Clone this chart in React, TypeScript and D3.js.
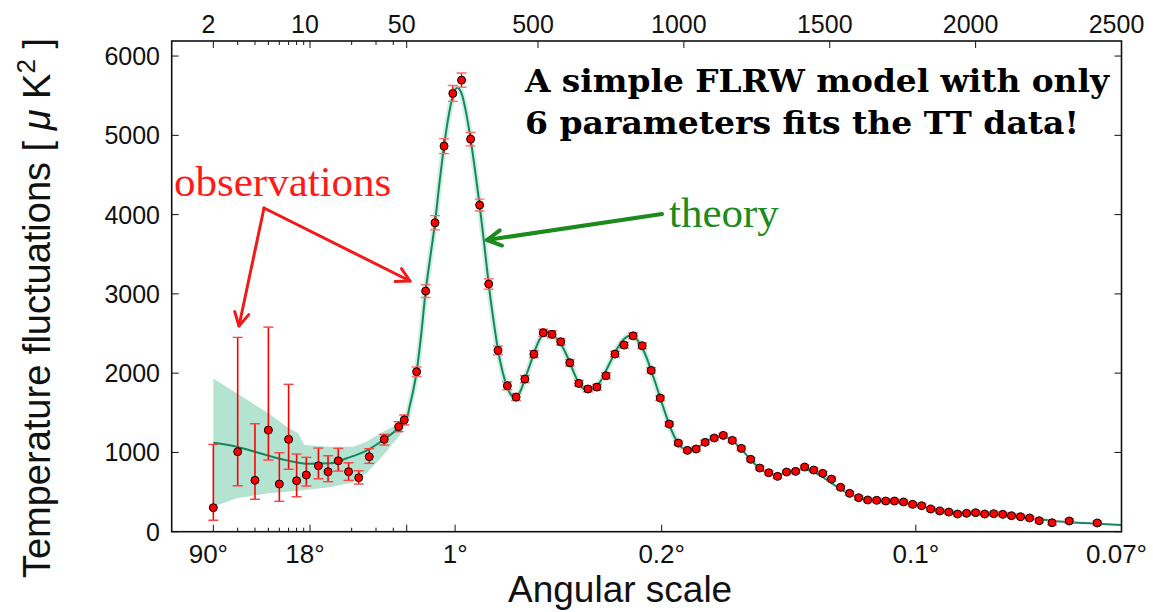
import React from "react";
import * as d3 from "d3";

// ---------- data ----------
// low-ℓ observations: [ell, D, errLow, errHigh]
const lowObs: [number, number, number, number][] = [
  [2, 303, 144, 1102], [3, 1009, 580, 2451], [4, 648, 409, 1362], [5, 1282, 904, 2581],
  [6, 601, 383, 996], [7, 1165, 787, 1859], [8, 643, 441, 980], [9.4, 715, 576, 938],
  [11.5, 832, 668, 1055], [13.5, 757, 631, 958], [16, 895, 765, 1052], [19, 757, 648, 870],
  [22.5, 681, 601, 769], [26.8, 946, 862, 1047], [34.4, 1165, 1093, 1228], [43.7, 1324, 1262, 1388],
  [48, 1410, 1348, 1472],
];
// binned high-ℓ observations: [ell, D, err]
const highObs: [number, number, number][] = [
  [84, 2018, 60], [115, 3035, 80], [147, 3897, 90], [178, 4864, 95], [208, 5528, 100],
  [238, 5696, 90], [269, 4952, 85], [300, 4120, 75], [331, 3124, 65], [363, 2287, 55],
  [395, 1841, 50], [425, 1698, 45], [455, 1925, 45], [486, 2240, 45], [518, 2510, 45],
  [548, 2490, 45], [578, 2396, 42], [609, 2131, 40], [640, 1871, 38], [671, 1800, 36],
  [702, 1824, 36], [733, 1967, 36], [764, 2241, 36], [795, 2354, 36], [826, 2471, 36],
  [857, 2346, 35], [888, 2035, 33], [919, 1686, 30], [950, 1358, 28], [981, 1118, 26],
  [1012, 1026, 25], [1042, 1043, 25], [1073, 1127, 25], [1104, 1182, 25], [1135, 1215, 25],
  [1166, 1152, 25], [1197, 1051, 25], [1229, 913, 24], [1260, 803, 24], [1291, 744, 24],
  [1321, 698, 24], [1352, 753, 24], [1383, 761, 24], [1414, 816, 24], [1445, 778, 24],
  [1476, 736, 24], [1506, 664, 24], [1537, 560, 24], [1568, 484, 24], [1599, 429, 24],
  [1630, 400, 24], [1661, 396, 24], [1692, 387, 24], [1722, 387, 24], [1753, 375, 24],
  [1784, 345, 24], [1815, 328, 24], [1846, 286, 24], [1877, 261, 24], [1908, 248, 24],
  [1938, 223, 24], [1969, 232, 24], [2000, 240, 24], [2031, 223, 24], [2062, 227, 24],
  [2093, 219, 24], [2123, 202, 24], [2154, 189, 24], [2185, 173, 24], [2218, 139, 25],
  [2262, 113, 25], [2321, 135, 25], [2417, 110, 25],
];
// best-fit theory curve: [ell, D]
const theory: [number, number][] = [
  [2, 1122], [2.95, 1072], [4, 1009], [5, 960], [6.8, 900], [10, 856], [13.9, 862], [18.4, 926],
  [25.6, 1022], [33.8, 1156], [44.6, 1324], [50, 1420], [60, 1580], [73, 1790], [84, 2018],
  [100, 2500], [115, 3035], [131, 3470], [147, 3897], [162, 4390], [178, 4864], [193, 5230],
  [208, 5500], [223, 5600], [238, 5530], [254, 5280], [269, 4952], [285, 4540], [300, 4120],
  [316, 3620], [331, 3124], [347, 2680], [363, 2290], [379, 2010], [395, 1820], [410, 1715],
  [425, 1698], [440, 1775], [455, 1925], [471, 2090], [486, 2250], [502, 2400], [518, 2490],
  [533, 2520], [548, 2495], [563, 2440], [578, 2370], [594, 2260], [609, 2135], [625, 1990],
  [640, 1871], [656, 1805], [671, 1785], [687, 1800], [702, 1840], [718, 1920], [733, 2030],
  [749, 2150], [764, 2260], [780, 2360], [795, 2430], [811, 2470], [826, 2465], [842, 2410],
  [857, 2320], [873, 2190], [888, 2030], [904, 1860], [919, 1686], [935, 1510], [950, 1350],
  [966, 1210], [981, 1110], [997, 1050], [1012, 1025], [1028, 1030], [1043, 1055], [1058, 1090],
  [1073, 1130], [1089, 1165], [1104, 1190], [1120, 1205], [1135, 1205], [1150, 1185], [1166, 1150],
  [1181, 1100], [1197, 1040], [1213, 975], [1229, 910], [1244, 850], [1260, 800], [1275, 760],
  [1291, 735], [1306, 722], [1321, 722], [1337, 730], [1352, 745], [1368, 762], [1383, 776],
  [1399, 785], [1414, 786], [1430, 774], [1445, 752], [1460, 722], [1476, 688], [1491, 650],
  [1506, 612], [1522, 574], [1537, 538], [1552, 506], [1568, 478], [1599, 435], [1630, 406],
  [1661, 391], [1692, 382], [1722, 374], [1753, 362], [1784, 345], [1815, 325], [1846, 300],
  [1877, 276], [1908, 254], [1938, 238], [1969, 228], [2000, 223], [2031, 220], [2062, 217],
  [2093, 210], [2123, 200], [2154, 187], [2185, 172], [2218, 157], [2262, 138], [2321, 120],
  [2417, 100], [2500, 84],
];
// cosmic-variance band at low ℓ: [ell, low, high]
const band: [number, number, number][] = [
  [2, 315, 1934], [2.95, 421, 1745], [5, 484, 1493], [6.8, 505, 1324], [8.2, 518, 1241],
  [9.1, 526, 1093], [13.9, 560, 1072], [20.5, 620, 1072], [25.6, 736, 1135], [33.8, 960, 1261],
  [44.6, 1219, 1367], [50, 1370, 1470],
];

const yTicks = [0, 1000, 2000, 3000, 4000, 5000, 6000];
const topTickVals = [2, 10, 50, 500, 1000, 1500, 2000, 2500];
const topTickLabels = ["2", "10", "50", "500", "1000", "1500", "2000", "2500"];
const logMinor = [3, 4, 5, 6, 7, 8, 9, 20, 30, 40];
const angTickEll = [2, 10, 216, 924, 1795, 2500];
const angTickLabels = ["90°", "18°", "1°", "0.2°", "0.1°", "0.07°"];

// ---------- layout ----------
const W = 1153, H = 612;
const P = { left: 171.7, right: 1121.5, top: 41, bottom: 531.7 };
const BREAK = 50;
const breakX = 406.7;
const xLog = d3.scaleLog().domain([1, BREAK]).range([P.left, breakX]);
const xLin = d3.scaleLinear().domain([BREAK, 2500]).range([breakX, P.right]);
const x = (l: number) => (l <= BREAK ? xLog(l) : xLin(l));
const y = d3.scaleLinear().domain([0, 6190]).range([P.bottom, P.top]);

const SANS = "'Liberation Sans', Arial, sans-serif";
const SERIF = "'Liberation Serif', 'Times New Roman', serif";
const SLAB = "'DejaVu Serif', serif";

const RED = "#ff0000";
const GREEN_LINE = "#14875c";
const BAND = "#b4e4d1";

function Arrow({ from, to, color, width, len = 15, ang = 0.5 }: any) {
  const dx = to[0] - from[0], dy = to[1] - from[1];
  const a = Math.atan2(dy, dx);
  const w1 = [to[0] - len * Math.cos(a - ang), to[1] - len * Math.sin(a - ang)];
  const w2 = [to[0] - len * Math.cos(a + ang), to[1] - len * Math.sin(a + ang)];
  return (
    <g stroke={color} strokeWidth={width} fill="none" strokeLinecap="round" strokeLinejoin="round">
      <line x1={from[0]} y1={from[1]} x2={to[0]} y2={to[1]} />
      <polyline points={`${w1[0]},${w1[1]} ${to[0]},${to[1]} ${w2[0]},${w2[1]}`} />
    </g>
  );
}

export default function App() {
  const line = d3
    .line<[number, number]>()
    .x((d) => x(d[0]))
    .y((d) => y(d[1]))
    .curve(d3.curveMonotoneX);
  const theoryPath = line(theory) || "";
  const haloPath = line(theory.filter((d) => d[0] >= 44 && d[0] <= 1000)) || "";
  const bandPath =
    d3
      .area<[number, number, number]>()
      .x((d) => x(d[0]))
      .y0((d) => y(d[1]))
      .y1((d) => y(d[2]))(band) || "";

  const capW = 5;

  return (
    <svg width={W} height={H} style={{ position: "absolute", left: 0, top: 0, background: "#fff" }}>
      <defs>
        <clipPath id="plotclip">
          <rect x={P.left} y={P.top} width={P.right - P.left} height={P.bottom - P.top} />
        </clipPath>
      </defs>
      <rect x={0} y={0} width={W} height={H} fill="#fff" />

      <g clipPath="url(#plotclip)">
        <path d={bandPath} fill={BAND} />
        <path d={haloPath} fill="none" stroke={BAND} strokeOpacity={0.6} strokeWidth={6} strokeLinejoin="round" />
        <path d={theoryPath} fill="none" stroke={GREEN_LINE} strokeWidth={2} />

        {/* low-ell error bars */}
        {lowObs.map((d, i) => {
          const cx = x(d[0]);
          return (
            <g key={"le" + i}>
              <line x1={cx} x2={cx} y1={y(d[2])} y2={y(d[3])} stroke={RED} strokeWidth={1.6} />
              <line x1={cx - capW} x2={cx + capW} y1={y(d[2])} y2={y(d[2])} stroke="#ff4040" strokeWidth={1.4} />
              <line x1={cx - capW} x2={cx + capW} y1={y(d[3])} y2={y(d[3])} stroke="#ff4040" strokeWidth={1.4} />
            </g>
          );
        })}
        {highObs.map((d, i) => {
          const cx = x(d[0]);
          const lo = y(d[1] - d[2]), hi = y(d[1] + d[2]);
          return (
            <g key={"he" + i}>
              <line x1={cx} x2={cx} y1={lo} y2={hi} stroke={RED} strokeWidth={1.4} />
              <line x1={cx - capW} x2={cx + capW} y1={lo} y2={lo} stroke="#ff6a6a" strokeWidth={1.4} />
              <line x1={cx - capW} x2={cx + capW} y1={hi} y2={hi} stroke="#ff6a6a" strokeWidth={1.4} />
            </g>
          );
        })}
        {lowObs.map((d, i) => (
          <circle key={"lp" + i} cx={x(d[0])} cy={y(d[1])} r={4} fill={RED} stroke="#000" strokeWidth={1} />
        ))}
        {highObs.map((d, i) => (
          <circle key={"hp" + i} cx={x(d[0])} cy={y(d[1])} r={4} fill={RED} stroke="#000" strokeWidth={1} />
        ))}
      </g>

      {/* frame */}
      <rect x={P.left} y={P.top} width={P.right - P.left} height={P.bottom - P.top} fill="none" stroke="#111" strokeWidth={1.6} />

      {/* y ticks */}
      {yTicks.map((t) => (
        <g key={"yt" + t}>
          <line x1={P.left} x2={P.left + 7} y1={y(t)} y2={y(t)} stroke="#111" strokeWidth={1} />
          <line x1={P.right} x2={P.right - 7} y1={y(t)} y2={y(t)} stroke="#111" strokeWidth={1} />
          <text x={160} y={y(t)} dy="0.36em" textAnchor="end" fontFamily={SANS} fontSize={25} fill="#111">
            {t}
          </text>
        </g>
      ))}

      {/* top axis ticks */}
      {topTickVals.filter((t) => t < 2500).map((t) => (
        <line key={"tt" + t} x1={x(t)} x2={x(t)} y1={P.top} y2={P.top + 7} stroke="#111" strokeWidth={1} />
      ))}
      {logMinor.map((t) => (
        <g key={"mn" + t}>
          <line x1={x(t)} x2={x(t)} y1={P.top} y2={P.top + 4} stroke="#111" strokeWidth={1} />
          <line x1={x(t)} x2={x(t)} y1={P.bottom} y2={P.bottom - 4} stroke="#111" strokeWidth={1} />
        </g>
      ))}
      {topTickVals.map((t, i) => (
        <text key={"tl" + t} x={x(t) - 5} y={33} textAnchor="middle" fontFamily={SANS} fontSize={25} fill="#111">
          {topTickLabels[i]}
        </text>
      ))}

      {/* bottom axis ticks */}
      {[2, 10, 50, ...angTickEll.slice(2, 5)].map((t) => (
        <line key={"bt" + t} x1={x(t)} x2={x(t)} y1={P.bottom} y2={P.bottom - 7} stroke="#111" strokeWidth={1} />
      ))}
      {angTickEll.map((t, i) => (
        <text
          key={"bl" + i}
          x={x(t) + (t <= 10 || t >= 2500 ? -5 : 0)}
          y={563}
          textAnchor="middle"
          fontFamily={SANS}
          fontSize={26}
          fill="#111"
        >
          {angTickLabels[i]}
        </text>
      ))}

      {/* axis titles */}
      <text x={508} y={602} fontFamily={SANS} fontSize={37} fill="#111">
        Angular scale
      </text>
      <text transform="translate(50,308) rotate(-90)" textAnchor="middle" fontFamily={SANS} fontSize={38} fill="#111">
        Temperature fluctuations [{" "}
        <tspan fontStyle="italic">μ</tspan>
        <tspan> K</tspan>
        <tspan dy={-15} fontSize={26}>2</tspan>
        <tspan dy={15}> ]</tspan>
      </text>

      {/* annotations */}
      <text x={525} y={92} fontFamily={SLAB} fontWeight="bold" fontSize={31} fill="#000" textLength={584} lengthAdjust="spacingAndGlyphs">
        A simple FLRW model with only
      </text>
      <text x={525} y={134} fontFamily={SLAB} fontWeight="bold" fontSize={31} fill="#000" textLength={554} lengthAdjust="spacingAndGlyphs">
        6 parameters fits the TT data!
      </text>
      <text x={174} y={196} fontFamily={SERIF} fontSize={43} fill="#ff1a1a">
        observations
      </text>
      <text x={669} y={227} fontFamily={SERIF} fontSize={43} fill="#1c8a1c">
        theory
      </text>

      <Arrow from={[264, 208]} to={[239, 326]} color="#f01a1a" width={3} />
      <Arrow from={[264, 208]} to={[410, 281]} color="#f01a1a" width={3} />
      <Arrow from={[662, 214]} to={[487, 240]} color="#1c8a1c" width={4} len={16} />
    </svg>
  );
}
